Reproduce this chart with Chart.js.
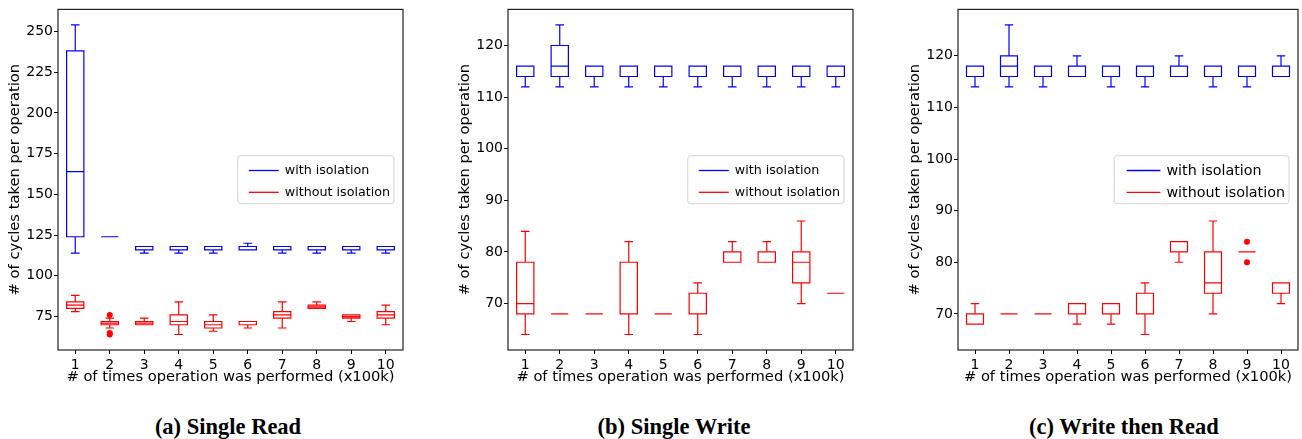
<!DOCTYPE html>
<html>
<head>
<meta charset="utf-8">
<script src="https://cdn.jsdelivr.net/npm/chart.js@4.4.0/dist/chart.umd.min.js"></script>
<style>
  body { margin: 0; background: #fff; }
  #wrap { position: relative; width: 1302px; height: 439px; overflow: hidden; background: #fff; }
  .panel { position: absolute; top: 0; }
  .caption { position: absolute; top: 416px; font: bold 22.5px "Liberation Serif", serif; line-height: 22.5px;
             transform: translateX(-50%); white-space: nowrap; color: #000; }
</style>
</head>
<body>
<div id="wrap">
  <div class="panel" style="left:0"><canvas id="chartA" width="420" height="400"></canvas></div>
  <div class="panel" style="left:450px"><canvas id="chartB" width="420" height="400"></canvas></div>
  <div class="panel" style="left:900px"><canvas id="chartC" width="402" height="400"></canvas></div>
  <div class="caption" style="left:228px">(a) Single Read</div>
  <div class="caption" style="left:674px">(b) Single Write</div>
  <div class="caption" style="left:1124px">(c) Write then Read</div>
</div>
<script>
// --- Dados ---
const categories = [1, 2, 3, 4, 5, 6, 7, 8, 9, 10];
const seriesLabels = ['with isolation', 'without isolation'];

// cada caixa: [bigode inferior, q1, mediana, q3, bigode superior]
const readWith = [
    [114, 124, 164, 238, 254],
    [124, 124, 124, 124, 124],
    [114, 116, 116, 118, 118],
    [114, 116, 116, 118, 118],
    [114, 116, 116, 118, 118],
    [116, 116, 116, 118, 120],
    [114, 116, 116, 118, 118],
    [114, 116, 116, 118, 118],
    [114, 116, 116, 118, 118],
    [114, 116, 116, 118, 118]
];
const readWithout = [
    [78, 80, 82, 84, 88],
    [68, 70, 71, 72, 74],
    [70, 70, 71, 72, 74],
    [64, 70, 72, 76, 84],
    [66, 68, 70, 72, 76],
    [68, 70, 70, 72, 72],
    [68, 74, 76, 78, 84],
    [80, 80, 81, 82, 84],
    [72, 74, 75, 76, 76],
    [70, 74, 76, 78, 82]
];
const readOutliers = [[2, 76], [2, 65], [2, 64]];

const writeWith = [
    [112, 114, 114, 116, 116],
    [112, 114, 116, 120, 124],
    [112, 114, 114, 116, 116],
    [112, 114, 114, 116, 116],
    [112, 114, 114, 116, 116],
    [112, 114, 114, 116, 116],
    [112, 114, 114, 116, 116],
    [112, 114, 114, 116, 116],
    [112, 114, 114, 116, 116],
    [112, 114, 114, 116, 116]
];
const writeWithout = [
    [64, 68, 70, 78, 84],
    [68, 68, 68, 68, 68],
    [68, 68, 68, 68, 68],
    [64, 68, 68, 78, 82],
    [68, 68, 68, 68, 68],
    [64, 68, 68, 72, 74],
    [78, 78, 78, 80, 82],
    [78, 78, 78, 80, 82],
    [70, 74, 78, 80, 86],
    [72, 72, 72, 72, 72]
];
const writeOutliers = [];

const bothWith = [
    [114, 116, 116, 118, 118],
    [114, 116, 118, 120, 126],
    [114, 116, 116, 118, 118],
    [116, 116, 116, 118, 120],
    [114, 116, 116, 118, 118],
    [114, 116, 116, 118, 118],
    [116, 116, 116, 118, 120],
    [114, 116, 116, 118, 118],
    [114, 116, 116, 118, 118],
    [116, 116, 116, 118, 120]
];
const bothWithout = [
    [68, 68, 68, 70, 72],
    [70, 70, 70, 70, 70],
    [70, 70, 70, 70, 70],
    [68, 70, 70, 72, 72],
    [68, 70, 70, 72, 72],
    [66, 70, 70, 74, 76],
    [80, 82, 82, 84, 84],
    [70, 74, 76, 82, 88],
    [82, 82, 82, 82, 82],
    [72, 74, 74, 76, 76]
];
const bothOutliers = [[9, 84], [9, 80]];

const readTicks = [75, 100, 125, 150, 175, 200, 225, 250];
const writeTicks = [70, 80, 90, 100, 110, 120];
const bothTicks = [70, 80, 90, 100, 110, 120];

// --- Estilo ---
const BLUE = '#0000ff';
const RED = '#ff0000';
const BOX_WIDTH = 0.5;
const tickFont = { family: "'DejaVu Sans', sans-serif", size: 14 };
const titleFont = { family: "'DejaVu Sans', sans-serif", size: 14.7 };

// Plugin que desenha as caixas, a moldura e a legenda
const boxPlotPlugin = {
    id: 'boxPlot',
    afterDatasetsDraw(chart, args, opts) {
        const { ctx, chartArea, scales: { x, y } } = chart;
        ctx.save();
        ctx.beginPath();
        ctx.rect(chartArea.left, chartArea.top, chartArea.width, chartArea.height);
        ctx.clip();
        ctx.lineWidth = 1.2;
        opts.series.forEach(s => {
            ctx.strokeStyle = s.color;
            s.stats.forEach((st, i) => {
                const c = categories[i];
                const cx = x.getPixelForValue(c);
                const hw = x.getPixelForValue(c + BOX_WIDTH / 2) - cx;
                const [lo, q1, med, q3, hi] = st.map(v => y.getPixelForValue(v));
                ctx.beginPath();
                ctx.rect(cx - hw, q3, 2 * hw, q1 - q3);
                ctx.moveTo(cx, q1); ctx.lineTo(cx, lo);
                ctx.moveTo(cx, q3); ctx.lineTo(cx, hi);
                ctx.moveTo(cx - hw / 2, lo); ctx.lineTo(cx + hw / 2, lo);
                ctx.moveTo(cx - hw / 2, hi); ctx.lineTo(cx + hw / 2, hi);
                ctx.moveTo(cx - hw, med); ctx.lineTo(cx + hw, med);
                ctx.stroke();
            });
        });
        ctx.restore();

        // moldura
        ctx.save();
        ctx.strokeStyle = '#222';
        ctx.lineWidth = 1.2;
        ctx.strokeRect(chartArea.left, chartArea.top, chartArea.width, chartArea.height);
        ctx.restore();

        // legenda
        const lg = opts.legend;
        const k = lg.fontSize / 12.7;
        ctx.save();
        ctx.font = `${lg.fontSize}px 'DejaVu Sans', sans-serif`;
        const textW = Math.max(...seriesLabels.map(t => ctx.measureText(t).width));
        const handle = 30 * k;
        const w = 11 * k + handle + 6 + textW + 4;
        const h = 48;
        const right = chartArea.right - 9;
        const left = right - w;
        const top = (chartArea.top + chartArea.bottom) / 2 - h / 2;
        ctx.beginPath();
        ctx.roundRect(left, top, w, h, 3);
        ctx.fillStyle = 'rgba(255,255,255,0.8)';
        ctx.fill();
        ctx.strokeStyle = '#d4d4d4';
        ctx.lineWidth = 1;
        ctx.stroke();
        const rows = [top + 14.8, top + 36.6];
        ctx.textBaseline = 'middle';
        opts.series.forEach((s, i) => {
            ctx.strokeStyle = s.color;
            ctx.lineWidth = 1.3;
            ctx.beginPath();
            ctx.moveTo(left + 11 * k, rows[i]);
            ctx.lineTo(left + 11 * k + handle, rows[i]);
            ctx.stroke();
            ctx.fillStyle = '#000';
            ctx.fillText(seriesLabels[i], left + 11 * k + handle + 6, rows[i] + 0.5);
        });
        ctx.restore();
    }
};

function makeChart(canvasId, withStats, withoutStats, outliers, yMin, yMax, yTicks, rightPad, legendSize) {
    return new Chart(document.getElementById(canvasId), {
        type: 'scatter',
        data: {
            datasets: [{
                data: outliers.map(([cx, v]) => ({ x: cx, y: v })),
                backgroundColor: RED,
                borderWidth: 0,
                pointRadius: 3
            }]
        },
        options: {
            responsive: false,
            animation: false,
            events: [],
            layout: { padding: { top: 7, right: rightPad, left: 0, bottom: 0 } },
            scales: {
                x: {
                    type: 'linear',
                    min: 0.5,
                    max: 10.5,
                    afterBuildTicks: axis => { axis.ticks = categories.map(v => ({ value: v })); },
                    afterFit: scale => { scale.height = 50; },
                    grid: { drawOnChartArea: false, drawTicks: true, tickLength: 4, color: '#000' },
                    border: { display: false },
                    ticks: { font: tickFont, color: '#000', padding: 3, maxRotation: 0, autoSkip: false },
                    title: {
                        display: true, text: '# of times operation was performed (x100k)',
                        font: titleFont, color: '#000', padding: { top: 0, bottom: 13.7 }
                    }
                },
                y: {
                    type: 'linear',
                    min: yMin,
                    max: yMax,
                    afterBuildTicks: axis => { axis.ticks = yTicks.map(v => ({ value: v })); },
                    afterFit: scale => { scale.width = 58; },
                    grid: { drawOnChartArea: false, drawTicks: true, tickLength: 4, color: '#000' },
                    border: { display: false },
                    ticks: { font: tickFont, color: '#000', padding: 1 },
                    title: {
                        display: true, text: '# of cycles taken per operation',
                        font: titleFont, color: '#000', padding: { top: 6.7, bottom: 0 }
                    }
                }
            },
            plugins: {
                legend: { display: false },
                tooltip: { enabled: false },
                boxPlot: {
                    series: [
                        { color: BLUE, stats: withStats },
                        { color: RED, stats: withoutStats }
                    ],
                    legend: { fontSize: legendSize }
                }
            }
        },
        plugins: [boxPlotPlugin]
    });
}

makeChart('chartA', readWith, readWithout, readOutliers, 54.5, 263.5, readTicks, 17, 12.7);
makeChart('chartB', writeWith, writeWithout, writeOutliers, 61, 127, writeTicks, 17, 12.7);
makeChart('chartC', bothWith, bothWithout, bothOutliers, 63, 129, bothTicks, 0, 14.3);
</script>
</body>
</html>
